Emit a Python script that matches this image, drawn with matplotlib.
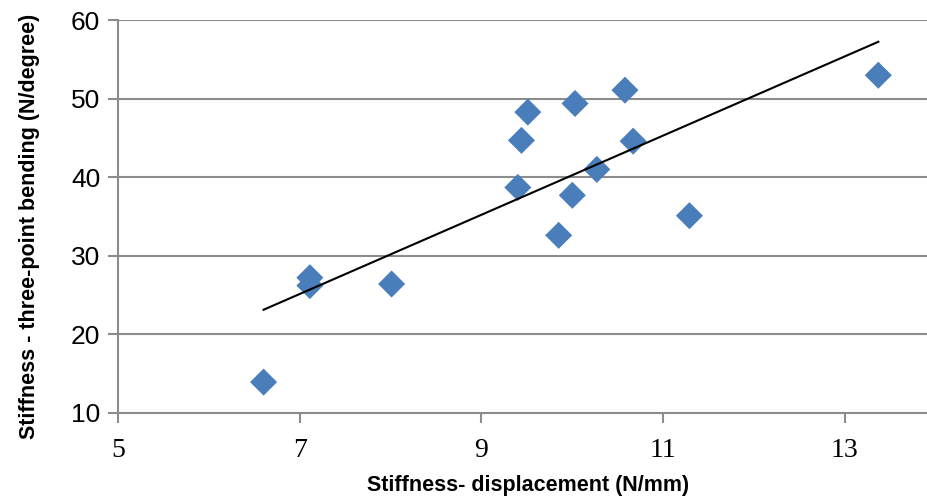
import numpy as np
import matplotlib
matplotlib.use("Agg")
import matplotlib.pyplot as plt

# Data
stiff_disp = [6.60, 7.11, 7.11, 8.01, 9.40, 9.44, 9.51, 9.85, 10.00, 10.03, 10.27, 10.58, 10.67, 11.29, 13.37]
stiff_bend = [13.9, 27.2, 26.2, 26.4, 38.7, 44.7, 48.3, 32.6, 37.7, 49.4, 41.0, 51.1, 44.6, 35.1, 53.0]
x_ticks = [5, 7, 9, 11, 13]
y_ticks = [10, 20, 30, 40, 50, 60]

x = np.array(stiff_disp)
y = np.array(stiff_bend)

fig = plt.figure(figsize=(9.27, 5.0), dpi=100)
ax = fig.add_axes([118.3/927, 1-412.7/500, 1-118.3/927, (412.7-20.3)/500])

ax.set_xlim(5, 5 + (927-118.3)/90.8)
ax.set_ylim(10, 60)

grid_c = "#8c8c8c"
for yt in y_ticks[1:]:
    ax.axhline(yt, color=grid_c, lw=1.5, zorder=1)

ax.scatter(x, y, marker="D", s=190, color="#4a7ebb", edgecolors="none", zorder=3)

m, b = np.polyfit(x, y, 1)
xs = np.array([x.min(), x.max()])
ax.plot(xs, m*xs + b, color="black", lw=1.5, zorder=4)

for s in ["top", "right"]:
    ax.spines[s].set_visible(False)
for s in ["left", "bottom"]:
    ax.spines[s].set_color(grid_c)
    ax.spines[s].set_linewidth(1.5)

ax.set_xticks(x_ticks)
ax.set_yticks(y_ticks)
ax.tick_params(axis="both", color=grid_c, width=1.5, length=7, direction="out")
ax.tick_params(axis="x", pad=11)
ax.tick_params(axis="y", pad=6)

for lab in ax.get_xticklabels():
    lab.set_fontfamily(["Liberation Serif", "DejaVu Serif"])
    lab.set_fontsize(20)
for lab in ax.get_yticklabels():
    lab.set_fontfamily(["Liberation Sans Narrow", "Liberation Sans", "DejaVu Sans"])
    lab.set_fontsize(19)

ax.set_xlabel("Stiffness- displacement (N/mm)", fontsize=15.5, fontweight="bold",
              family=["Liberation Sans Narrow", "Liberation Sans", "DejaVu Sans"])
ax.xaxis.set_label_coords((528-118.3)/(927-118.3), -(475-412.7)/392.4)
ax.set_ylabel("Stiffness - three-point bending (N/degree)", fontsize=15.5, fontweight="bold",
              family=["Liberation Sans Narrow", "Liberation Sans", "DejaVu Sans"])
ax.yaxis.set_label_coords(-(118.3-40)/(927-118.3), (412.7-226)/392.4)

fig.savefig("out.png", dpi=100)
